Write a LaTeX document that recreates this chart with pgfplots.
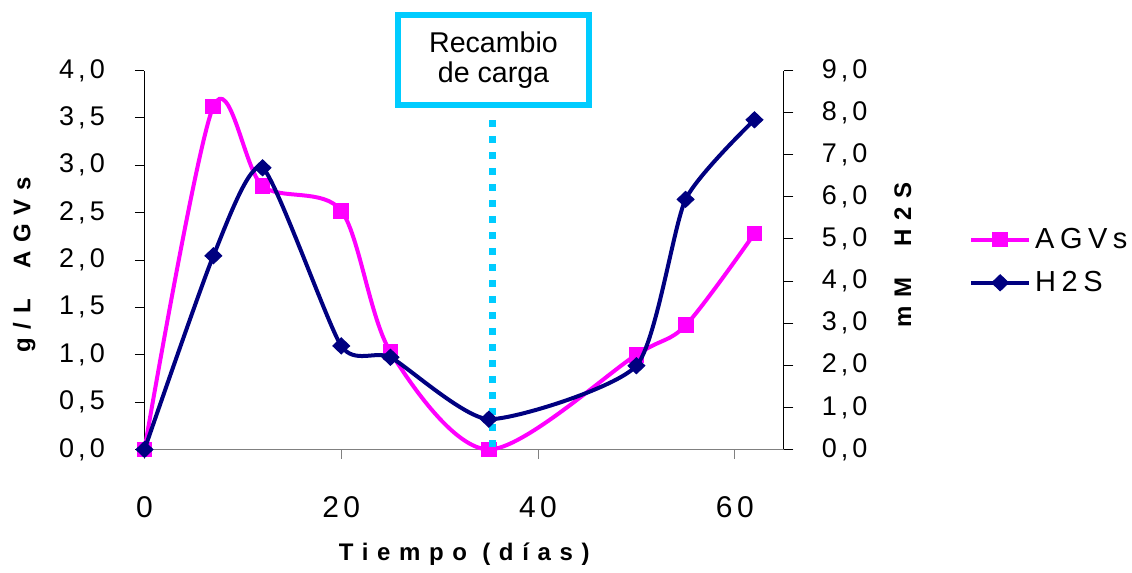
\documentclass[border=0pt]{standalone}
\usepackage{pgfplots}
\pgfplotsset{compat=1.18}
\usepackage{fontspec}
\setmainfont{Liberation Sans}
\newfontfamily\tickfont[LetterSpace=15]{Liberation Sans}
\newfontfamily\legfont[LetterSpace=19]{Liberation Sans}
\newfontfamily\labfont[LetterSpace=36]{Liberation Sans}
\definecolor{agv}{HTML}{FF00FF}
\definecolor{hs}{HTML}{000080}
\definecolor{sky}{HTML}{00CCFF}
\begin{document}
\begin{tikzpicture}
\pgfplotsset{
 base/.style={scale only axis, width=319.75pt, height=189.5pt,
   at={(72.25pt,61.75pt)}, anchor=south west, xmin=0, xmax=65,
   /pgf/number format/assume math mode=true,
   tick align=outside, major tick length=4.75pt,
   tick style={line width=0.5pt},
   axis line style={line width=0.5pt},
   yticklabel style={/pgf/number format/fixed, /pgf/number format/fixed zerofill,
      /pgf/number format/precision=1,
      /pgf/number format/set decimal separator={\hspace{2pt},},
      font=\tickfont\fontsize{13.5}{16}\selectfont, inner sep=0pt},
   xticklabel style={font=\tickfont\fontsize{15}{18}\selectfont, inner sep=0pt, anchor=north, yshift=-18.6pt},
   clip=false}
}
\begin{axis}[base, axis x line*=bottom, axis y line*=left,
  x axis line style={gray}, xtick style={gray}, ytick style={black},
  ymin=0, ymax=4, ytick={0,0.5,1,1.5,2,2.5,3,3.5,4}, xtick={0,20,40,60},
  yticklabel style={anchor=east, xshift=-14.9pt},
  xlabel={Tiempo (días)}, ylabel={g/L\ \ AGVs},
  every axis x label/.style={at={(axis description cs:0.5,-0.2916)}, anchor=base,
     font=\labfont\bfseries\fontsize{12}{14}\selectfont},
  every axis y label/.style={at={(axis description cs:-0.188,0.487)}, rotate=90, anchor=center,
     font=\labfont\bfseries\fontsize{12}{14}\selectfont}]
\addplot[agv, line width=2pt, smooth, tension=0.5, mark=square*, mark size=3.7pt,
  mark options={solid, line width=0.5pt}]
  coordinates {(0,0) (7,3.62) (12,2.78) (20,2.52) (25,1.03) (35,0) (50,1.0) (55,1.31) (62,2.28)};
\end{axis}
\begin{axis}[base, axis x line=none, axis y line*=right, ytick style={black},
  ymin=0, ymax=9, ytick={0,1,2,3,4,5,6,7,8,9},
  yticklabel style={anchor=west, xshift=14pt},
  ylabel={mM\ \ H2S},
  every axis y label/.style={at={(axis description cs:1.186,0.513)}, rotate=90, anchor=center,
     font=\labfont\bfseries\fontsize{12}{14}\selectfont},
  legend style={draw=none, fill=none, at={(axis description cs:1.289,0.497)}, anchor=west,
     inner sep=0pt, row sep=6pt, font=\legfont\fontsize{14.5}{17}\selectfont},
  legend cell align=left,
  legend image code/.code={\draw[mark repeat=2,mark phase=2,#1] plot coordinates {(0pt,0pt) (14.5pt,0pt) (29pt,0pt)};}]
\addlegendimage{agv, line width=2pt, mark=square*, mark size=3.7pt, mark options={solid, line width=0.5pt}}
\addlegendentry{AGVs}
\addplot[hs, line width=2pt, smooth, tension=0.36, mark=diamond*, mark size=4pt,
  mark options={solid, line width=0.5pt, xscale=1.4}]
  coordinates {(0,0) (7,4.6) (12,6.69) (20,2.46) (25,2.19) (35,0.72) (50,1.99) (55,5.94) (62,7.83)};
\addlegendentry{H2S}
\addplot[sky, line width=3.5pt, dash pattern=on 3.5pt off 4.5pt, forget plot]
  coordinates {(35.4,0.07) (35.4,7.9)};
\end{axis}
\draw[sky, line width=3pt] (199pt,234pt) rectangle (294.5pt,279pt);
\node[align=center, font=\fontsize{14.3}{15}\selectfont] at (246.75pt,256.5pt) {Recambio\\de carga};
\pgfresetboundingbox
\path[use as bounding box] (0,0) rectangle (566pt,286.5pt);
\end{tikzpicture}
\end{document}
